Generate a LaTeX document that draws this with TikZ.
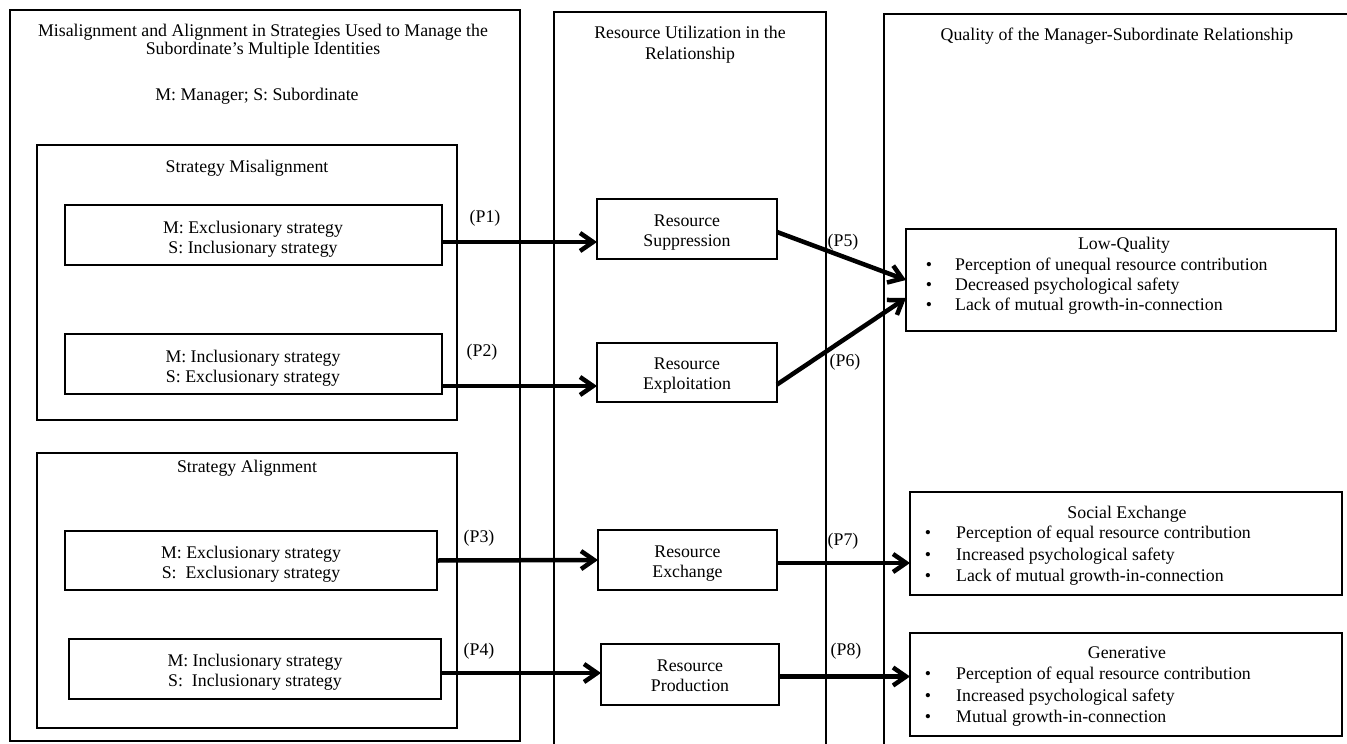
\documentclass[tikz,border=0pt]{standalone}
\usepackage{fontspec}
\setmainfont{Liberation Serif}
\usetikzlibrary{arrows.meta}
\newcommand\fsz{\fontsize{17.8}{20}\selectfont}
\tikzset{
  bx/.style={draw, line width=1.3pt, inner sep=0pt, outer sep=0pt},
  txt/.style={font=\fsz, inner sep=0pt, anchor=base},
  lbl/.style={font=\fsz, inner sep=0pt, anchor=center},
  arr/.style={line width=4.5pt, -{Straight Barb[length=13pt,width=18pt]}},
  frm/.style={line width=1.3pt},
}
\begin{document}
\begin{tikzpicture}[x=1pt,y=-1pt]
\useasboundingbox (0,0) rectangle (1347,744);
\fill[white] (0,0) rectangle (1347,744);
% column frames
\node[bx, minimum width=510pt, minimum height=731pt] (left) at (265,375.5) {};
\draw[frm] (554,760) -- (554,12) -- (826,12) -- (826,760);
\draw[frm] (884,760) -- (884,14) -- (1360,14);
% column titles
\node[txt] (t1a) at (263,36) {Misalignment and Alignment in Strategies Used to Manage the};
\node[txt] (t1b) at (263,54) {Subordinate’s Multiple Identities};
\node[txt] (t1c) at (257,100) {M: Manager; S: Subordinate};
\node[txt] (t2a) at (690,38) {Resource Utilization in the};
\node[txt] (t2b) at (690,59) {Relationship};
\node[txt] (t3) at (1117,40) {Quality of the Manager-Subordinate Relationship};
% strategy group boxes
\node[bx, minimum width=420pt, minimum height=275pt] (mis) at (247,282.5) {};
\node[txt] (mist) at (247,172) {Strategy Misalignment};
\node[bx, minimum width=420pt, minimum height=275pt] (ali) at (247,590.5) {};
\node[txt] (alit) at (247,472) {Strategy Alignment};
% strategy boxes
\node[bx, minimum width=377pt, minimum height=60pt] (b1) at (253.5,235) {};
\node[txt] (b1a) at (253,233) {M: Exclusionary strategy};
\node[txt] (b1b) at (253,253) {S: Inclusionary strategy};
\node[bx, minimum width=377pt, minimum height=60pt] (b2) at (253.5,364) {};
\node[txt] (b2a) at (253,362) {M: Inclusionary strategy};
\node[txt] (b2b) at (253,382) {S: Exclusionary strategy};
\node[bx, minimum width=372pt, minimum height=59pt] (b3) at (251,560.5) {};
\node[txt] (b3a) at (251,558) {M: Exclusionary strategy};
\node[txt] (b3b) at (251,578) {S:\ \ Exclusionary strategy};
\node[bx, minimum width=372pt, minimum height=60pt] (b4) at (255,669) {};
\node[txt] (b4a) at (255,666) {M: Inclusionary strategy};
\node[txt] (b4b) at (255,686) {S:\ \ Inclusionary strategy};
% resource boxes
\node[bx, minimum width=180pt, minimum height=60pt] (supp) at (687,229) {};
\node[txt] (suppa) at (687,226) {Resource};
\node[txt] (suppb) at (687,246) {Suppression};
\node[bx, minimum width=180pt, minimum height=59pt] (expl) at (687,372.5) {};
\node[txt] (expla) at (687,369) {Resource};
\node[txt] (explb) at (687,389) {Exploitation};
\node[bx, minimum width=179pt, minimum height=60pt] (exch) at (687.5,560) {};
\node[txt] (excha) at (687.5,557) {Resource};
\node[txt] (exchb) at (687.5,577) {Exchange};
\node[bx, minimum width=178pt, minimum height=61pt] (prod) at (690,674.5) {};
\node[txt] (proda) at (690,671) {Resource};
\node[txt] (prodb) at (690,691) {Production};
% quality boxes
\node[bx, minimum width=430pt, minimum height=102pt] (low) at (1121,280) {};
\node[txt] (lowt) at (1124,249) {Low-Quality};
\node[txt] (lowd1) at (929,270) {\textbullet};
\node[txt, anchor=base west] (low1) at (955,270) {Perception of unequal resource contribution};
\node[txt] (lowd2) at (929,290) {\textbullet};
\node[txt, anchor=base west] (low2) at (955,290) {Decreased psychological safety};
\node[txt] (lowd3) at (929,310) {\textbullet};
\node[txt, anchor=base west] (low3) at (955,310) {Lack of mutual growth-in-connection};
\node[bx, minimum width=432pt, minimum height=103pt] (soc) at (1126,543.5) {};
\node[txt] (soct) at (1127,518) {Social Exchange};
\node[txt] (socd1) at (928,538) {\textbullet};
\node[txt, anchor=base west] (soc1) at (956,538) {Perception of equal resource contribution};
\node[txt] (socd2) at (928,560) {\textbullet};
\node[txt, anchor=base west] (soc2) at (956,560) {Increased psychological safety};
\node[txt] (socd3) at (928,581) {\textbullet};
\node[txt, anchor=base west] (soc3) at (956,581) {Lack of mutual growth-in-connection};
\node[bx, minimum width=432pt, minimum height=103pt] (gen) at (1126,684.5) {};
\node[txt] (gent) at (1127,658) {Generative};
\node[txt] (gend1) at (928,679) {\textbullet};
\node[txt, anchor=base west] (gen1) at (956,679) {Perception of equal resource contribution};
\node[txt] (gend2) at (928,701) {\textbullet};
\node[txt, anchor=base west] (gen2) at (956,701) {Increased psychological safety};
\node[txt] (gend3) at (928,722) {\textbullet};
\node[txt, anchor=base west] (gen3) at (956,722) {Mutual growth-in-connection};
% arrows
\draw[arr] ([yshift=-7pt]b1.east) -- ([yshift=-7pt]b1.east -| supp.west);
\draw[arr] ([yshift=-22pt]b2.east) -- ([yshift=-22pt]b2.east -| expl.west);
\draw[arr] (b3.east) -- (exch.west);
\draw[arr] ([yshift=-4pt]b4.east) -- ([yshift=-4pt]b4.east -| prod.west);
\draw[arr] ([yshift=-3pt]supp.east) -- (low.west);
\draw[arr] ([yshift=-12pt]expl.east) -- ([yshift=-18pt]low.west);
\draw[arr] ([yshift=-3pt]exch.east) -- ([yshift=-3pt]exch.east -| soc.west);
\draw[arr] ([yshift=-2pt]prod.east) -- ([yshift=-2pt]prod.east -| gen.west);
% labels
\node[lbl] (p1) at (485,218) {(P1)};
\node[lbl] (p2) at (482,352) {(P2)};
\node[lbl] (p3) at (479,538) {(P3)};
\node[lbl] (p4) at (479,651) {(P4)};
\node[lbl] (p5) at (843,242) {(P5)};
\node[lbl] (p6) at (845,362) {(P6)};
\node[lbl] (p7) at (843,541) {(P7)};
\node[lbl] (p8) at (846,651) {(P8)};
\end{tikzpicture}
\end{document}
